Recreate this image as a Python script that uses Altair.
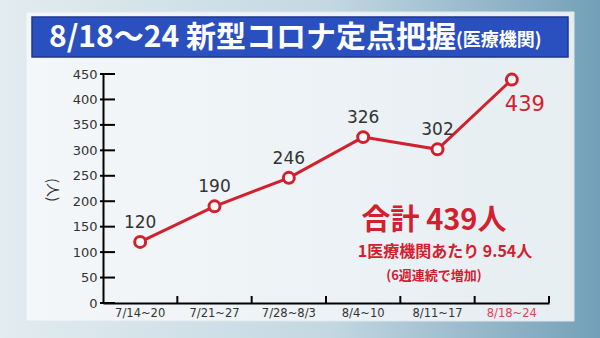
import altair as alt
import pandas as pd

weeks = ["7/14~20", "7/21~27", "7/28~8/3", "8/4~10", "8/11~17", "8/18~24"]
values = [120, 190, 246, 326, 302, 439]
y_ticks = [0, 50, 100, 150, 200, 250, 300, 350, 400, 450]

title_main = "8/18～24 新型コロナ定点把握"
title_sub = "(医療機関)"
note1 = "合計 439人"
note2 = "1医療機関あたり 9.54人"
note3 = "(6週連続で増加)"
y_title = "(人)"

RED = "#d2202f"
DARK = "#333333"
CJK = "Noto Sans CJK JP"
NUM = "DejaVu Sans"

df = pd.DataFrame({"week": weeks, "value": values})
df["last"] = [False] * (len(weeks) - 1) + [True]
ticks_df = pd.DataFrame({"t": y_ticks})
one = pd.DataFrame({"a": [0]})

W, H = 446, 229
L, T, R, B = 103, 74, 51, 35
HALF_BAND = W / len(weeks) / 2

xsc = alt.Scale(domain=weeks, paddingInner=0, paddingOuter=0)
ysc = alt.Scale(domain=[0, 450], nice=False)

base = alt.Chart(df)

# decorative background
bg = alt.Chart(one).mark_rect(
    color=alt.LinearGradient(
        gradient="linear", x1=0, x2=1, y1=0, y2=0,
        stops=[alt.GradientStop(offset=0, color="#e3ecf0"),
               alt.GradientStop(offset=0.55, color="#c3d8e2"),
               alt.GradientStop(offset=1, color="#739fb8")]),
    clip=False,
).encode(x=alt.value(-L), x2=alt.value(W + R), y=alt.value(-T), y2=alt.value(H + B))

panel = alt.Chart(one).mark_rect(
    color=alt.LinearGradient(
        gradient="linear", x1=0, x2=1, y1=0, y2=0,
        stops=[alt.GradientStop(offset=0, color="#f4f7f9"),
               alt.GradientStop(offset=1, color="#e6eef2")]),
    stroke="#dfe8ed", strokeWidth=1, clip=False,
).encode(x=alt.value(-77), x2=alt.value(471), y=alt.value(-62), y2=alt.value(247))

bar = alt.Chart(one).mark_rect(color="#2a4fbf", stroke="#1c3690", strokeWidth=1.5, clip=False).encode(
    x=alt.value(-71), x2=alt.value(465), y=alt.value(-57), y2=alt.value(-17))

t_main = alt.Chart(one).mark_text(
    text=title_main, font=CJK, fontSize=30, fontWeight="bold", color="white",
    align="left", baseline="middle", clip=False,
).encode(x=alt.value(-54), y=alt.value(-36))

t_sub = alt.Chart(one).mark_text(
    text=title_sub, font=CJK, fontSize=18, fontWeight="bold", color="white",
    align="left", baseline="middle", clip=False,
).encode(x=alt.value(353), y=alt.value(-33))

n1 = alt.Chart(one).mark_text(text=note1, font=CJK, fontSize=29, fontWeight="bold", color=RED,
                              align="center", baseline="middle").encode(x=alt.value(331), y=alt.value(147))
n2 = alt.Chart(one).mark_text(text=note2, font=CJK, fontSize=16, fontWeight="bold", color=RED,
                              align="center", baseline="middle").encode(x=alt.value(342), y=alt.value(178))
n3 = alt.Chart(one).mark_text(text=note3, font=CJK, fontSize=13, fontWeight="bold", color=RED,
                              align="center", baseline="middle").encode(x=alt.value(331), y=alt.value(202))

ytitle = alt.Chart(one).mark_text(text=y_title, font=CJK, fontSize=14, color=DARK, angle=90,
                                  align="center", baseline="middle", clip=False).encode(
    x=alt.value(-51), y=alt.value(116))

x_axis = alt.Axis(title=None, ticks=False, domainColor="black", domainWidth=2, zindex=1,
                  labelAlign="center", labelBaseline="top", labelFlush=False, labelOverlap=False,
                  labelFont=NUM, labelFontSize=11.5, labelPadding=4, labelAngle=0,
                  labelColor={"condition": {"test": "datum.value == '8/18~24'", "value": "#e2415e"},
                              "value": DARK})
y_axis = alt.Axis(title=None, ticks=False, grid=False, values=y_ticks, domainColor="black",
                  labelOverlap=False, labelFlush=False,
                  domainWidth=2, labelFont=NUM, labelFontSize=13, labelPadding=6, zindex=1,
                  labelColor=DARK)
x_enc = alt.X("week:N", sort=weeks, scale=xsc, axis=x_axis)
y_enc = alt.Y("value:Q", scale=ysc, axis=y_axis)

line = base.mark_line(color=RED, strokeWidth=3).encode(x=x_enc, y=y_enc)
pts = base.mark_point(shape="circle", filled=False, fill="white", fillOpacity=1, stroke=RED,
                      strokeWidth=3, size=120, opacity=1).encode(x=x_enc, y=y_enc)

lbl = base.transform_filter("!datum.last").mark_text(
    font=NUM, fontSize=17, color=DARK, dy=-19, baseline="middle").encode(
    x=x_enc, y=y_enc, text="value:Q")
lbl_last = base.transform_filter("datum.last").mark_text(
    font=NUM, fontSize=21, color=RED, dx=13, dy=25, baseline="middle").encode(
    x=x_enc, y=y_enc, text="value:Q")

yt = alt.Chart(ticks_df).mark_rule(color="black", strokeWidth=2).encode(
    y=alt.Y("t:Q", scale=ysc, axis=y_axis), x=alt.value(-3), x2=alt.value(12))
xt = base.mark_rule(color="black", strokeWidth=2, xOffset=HALF_BAND).encode(
    x=x_enc, y=alt.value(H - 7), y2=alt.value(H))

chart = alt.layer(bg, panel, bar, t_main, t_sub, ytitle, n1, n2, n3, yt, xt, line, pts, lbl, lbl_last).properties(
    width=W, height=H,
    autosize=alt.AutoSizeParams(type="none"),
    padding={"left": L, "top": T, "right": R, "bottom": B},
).configure_view(stroke=None).configure(background="#dfe9ee")

chart.save("out.html", embed_options={"renderer": "svg", "actions": False})
